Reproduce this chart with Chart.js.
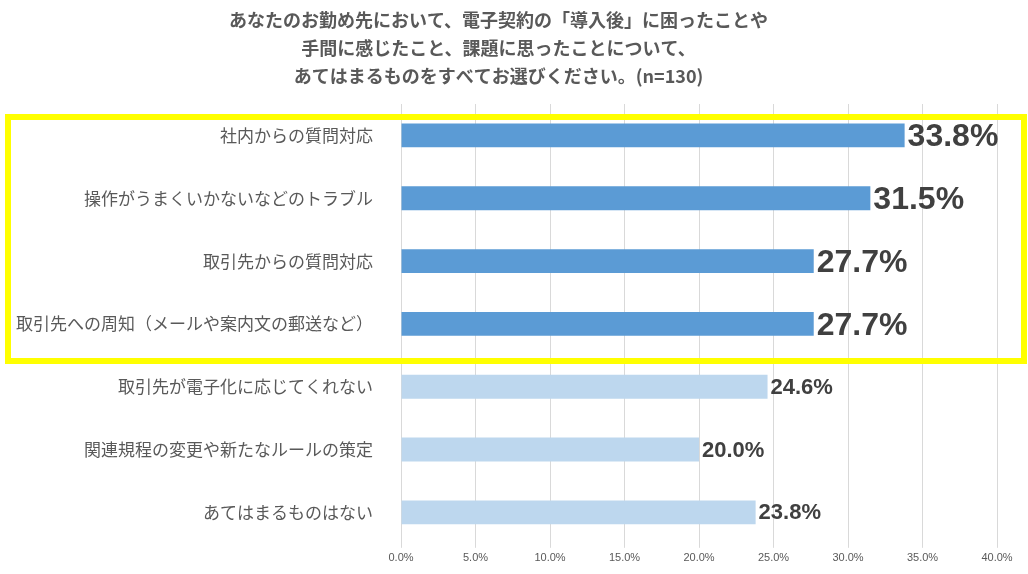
<!DOCTYPE html>
<html>
<head>
<meta charset="utf-8">
<script src="https://cdn.jsdelivr.net/npm/chart.js@4"></script>
<style>
	html, body { margin: 0; padding: 0; background: #fff; }
	#wrap { width: 1028px; height: 574px; position: relative; }
</style>
</head>
<body>
<div id="wrap"><canvas id="chartMain"></canvas></div>
<script>
var categories = [
	'社内からの質問対応',
	'操作がうまくいかないなどのトラブル',
	'取引先からの質問対応',
	'取引先への周知（メールや案内文の郵送など）',
	'取引先が電子化に応じてくれない',
	'関連規程の変更や新たなルールの策定',
	'あてはまるものはない'
];
var values = [33.8, 31.5, 27.7, 27.7, 24.6, 20.0, 23.8];
var highlighted = [true, true, true, true, false, false, false];
var titleLines = [
	'あなたのお勤め先において、電子契約の「導入後」に困ったことや',
	'手間に感じたこと、課題に思ったことについて、',
	'あてはまるものをすべてお選びください。(n=130)'
];

var labelPlugin = {
	id: 'barLabels',
	afterDatasetsDraw: function (chart) {
		var ctx = chart.ctx;
		var meta = chart.getDatasetMeta(0);
		ctx.save();
		ctx.fillStyle = '#404040';
		ctx.textAlign = 'left';
		ctx.textBaseline = 'middle';
		meta.data.forEach(function (bar, i) {
			var big = highlighted[i];
			ctx.font = 'bold ' + (big ? 32 : 22) + 'px "Liberation Sans", Arial, sans-serif';
			ctx.fillText(values[i].toFixed(1) + '%', bar.x + 3, bar.y + (big ? 2 : 1));
		});
		ctx.restore();
	},
	afterDraw: function (chart) {
		var ctx = chart.ctx;
		ctx.save();
		ctx.strokeStyle = '#ffff00';
		ctx.lineWidth = 6;
		ctx.strokeRect(8, 117, 1016, 244);
		ctx.restore();
	}
};

new Chart(document.getElementById('chartMain'), {
	type: 'bar',
	data: {
		labels: categories,
		datasets: [{
			data: values,
			backgroundColor: highlighted.map(function (h) { return h ? '#5b9bd5' : '#bdd7ee'; }),
			borderWidth: 0,
			barPercentage: 0.38,
			categoryPercentage: 1
		}]
	},
	options: {
		indexAxis: 'y',
		responsive: true,
		maintainAspectRatio: false,
		animation: false,
		layout: { padding: { top: 0, right: 31, bottom: 0, left: 0 } },
		plugins: {
			legend: { display: false },
			tooltip: { enabled: false },
			title: {
				display: true,
				text: titleLines,
				color: '#595959',
				font: { family: '"Noto Sans CJK JP", sans-serif', size: 18, weight: 'bold', lineHeight: 28 / 18 },
				padding: { top: 6, bottom: 14 }
			}
		},
		scales: {
			x: {
				min: 0,
				max: 40,
				afterFit: function (scale) { scale.height = 30; },
				border: { display: false },
				grid: { color: '#d9d9d9', tickLength: 4, tickColor: '#d9d9d9' },
				ticks: {
					stepSize: 5,
					padding: 4,
					color: '#595959',
					font: { family: '"Liberation Sans", Arial, sans-serif', size: 11 },
					callback: function (v) { return v.toFixed(1) + '%'; }
				}
			},
			y: {
				afterFit: function (scale) { scale.width = 401; },
				border: { display: false },
				grid: { display: false },
				ticks: {
					padding: 20,
					color: '#595959',
					font: { family: '"Noto Sans CJK JP", sans-serif', size: 17 }
				}
			}
		}
	},
	plugins: [labelPlugin]
});
</script>
</body>
</html>
